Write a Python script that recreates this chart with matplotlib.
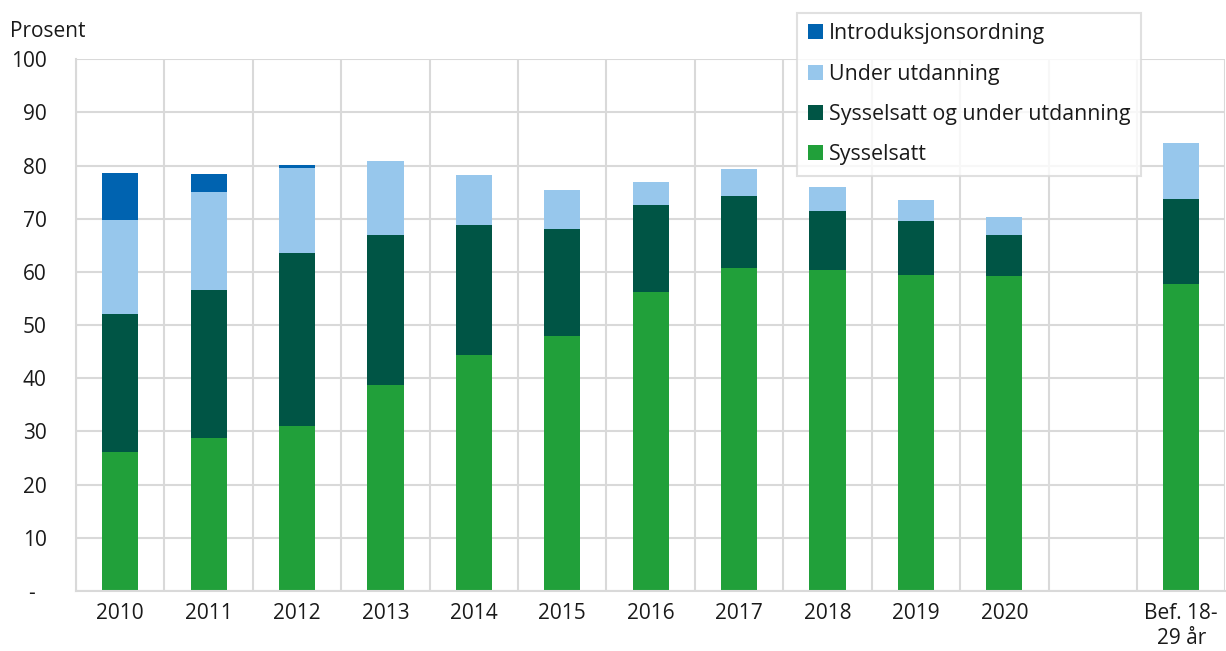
import matplotlib
matplotlib.use('Agg')
import matplotlib.pyplot as plt
import numpy as np

plt.rcParams['font.family'] = ['Open Sans', 'DejaVu Sans']

# categories, with an empty slot before the population reference bar
categories = ['2010', '2011', '2012', '2013', '2014', '2015', '2016',
              '2017', '2018', '2019', '2020', '', 'Bef. 18-\n29 år']

# share (per cent) in each status, stacked from the bottom
sysselsatt = [26.2, 28.8, 31.0, 38.7, 44.4, 48.0, 56.2,
              60.7, 60.4, 59.4, 59.2, np.nan, 57.7]
syss_og_utd = [25.9, 27.8, 32.6, 28.2, 24.5, 20.0, 16.4,
               13.5, 11.1, 10.1, 7.8, np.nan, 16.1]
under_utd = [17.6, 18.4, 16.0, 14.0, 9.3, 7.4, 4.3,
             5.2, 4.4, 4.0, 3.3, np.nan, 10.5]
intro = [8.9, 3.4, 0.5, 0.0, 0.0, 0.0, 0.0,
         0.0, 0.0, 0.0, 0.0, np.nan, 0.0]

series = [
    ('Sysselsatt', sysselsatt, '#21a03a'),
    ('Sysselsatt og under utdanning', syss_og_utd, '#005545'),
    ('Under utdanning', under_utd, '#97c7ec'),
    ('Introduksjonsordning', intro, '#0063b0'),
]

grid_color = '#d9d9d9'

fig = plt.figure(figsize=(12.26, 6.51), dpi=100)
ax = fig.add_axes([0.062, 0.0922, 0.9375, 0.8167])

x = np.arange(len(categories))
bottom = np.zeros(len(categories))
handles = []
for label, vals, color in series:
    vals = np.array(vals, dtype=float)
    h = ax.bar(x, vals, width=0.41, bottom=bottom, color=color,
               label=label, zorder=3, linewidth=0)
    handles.append(h)
    bottom = bottom + np.nan_to_num(vals)

ax.set_xlim(-0.5, len(categories) - 0.5)
ax.set_ylim(0, 100)

ax.set_yticks(np.arange(0, 101, 10))
ax.set_yticklabels(['-  '] + [str(v) for v in range(10, 101, 10)])
ax.set_xticks(x)
ax.set_xticklabels(categories)
ax.set_xticks(np.arange(-0.5, len(categories), 1.0), minor=True)

ax.grid(axis='y', which='major', color=grid_color, linewidth=1.5, zorder=0)
ax.grid(axis='x', which='minor', color=grid_color, linewidth=1.5, zorder=0)
ax.tick_params(axis='both', which='both', length=0, labelsize=15,
               labelcolor='#1a1a1a')
ax.tick_params(axis='y', pad=21)
ax.tick_params(axis='x', pad=9)

for side in ('top', 'right'):
    ax.spines[side].set_visible(False)
for side in ('left', 'bottom'):
    ax.spines[side].set_color(grid_color)
    ax.spines[side].set_linewidth(1.5)
    ax.spines[side].set_zorder(4)

fig.text(0.008, 0.952, 'Prosent', fontsize=15, color='#1a1a1a',
         va='center', ha='left')

leg = fig.legend(handles[::-1], [s[0] for s in series][::-1],
                 loc='upper left', bbox_to_anchor=(0.650, 0.9805),
                 fontsize=15.4, handlelength=0.7, handleheight=0.7,
                 handletextpad=0.3, labelspacing=0.9, borderpad=0.5,
                 borderaxespad=0, fancybox=False, frameon=True)
leg.get_frame().set_edgecolor(grid_color)
leg.get_frame().set_linewidth(1.5)
for t in leg.get_texts():
    t.set_color('#1a1a1a')

fig.savefig('out.png', dpi=100)
